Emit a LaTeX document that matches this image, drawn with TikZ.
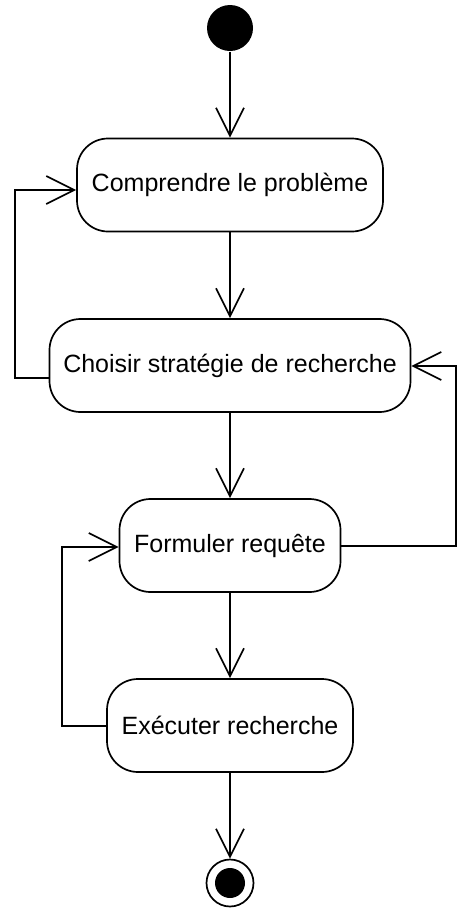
\documentclass[tikz,border=0pt]{standalone}
\usepackage{fontspec}
\setmainfont{Liberation Sans}
\usetikzlibrary{arrows.meta}
\begin{document}
\begin{tikzpicture}[x=1pt,y=-1pt,
  line width=1.7pt,
  activity/.style={draw, rounded corners=31pt, inner sep=0pt, minimum height=93pt,
    font=\fontsize{25}{30}\selectfont},
  flow/.style={-{Straight Barb[length=28pt,width=28pt,line width=1.7pt]}},
  initial/.style={circle, fill=black, inner sep=0pt, minimum size=46pt},
  final/.style={circle, draw, inner sep=0pt, minimum size=47pt},
  finaldot/.style={circle, fill=black, inner sep=0pt, minimum size=30pt}]
\useasboundingbox (0,0) rectangle (457,908);

% action states
\node[initial] (start) at (230,28) {};
\node[activity, minimum width=306pt] (b1) at (230,185) {Comprendre le problème};
\node[activity, minimum width=361pt] (b2) at (230,365.5) {Choisir stratégie de recherche};
\node[activity, minimum width=221pt] (b3) at (230,545.5) {Formuler requête};
\node[activity, minimum width=246pt] (b4) at (230,725.5) {Exécuter recherche};
\node[final] (fin) at (230,883) {};
\node[finaldot] (findot) at (fin.center) {};

% loop bend points
\coordinate (l1a) at (15,378);
\coordinate (l1b) at (15,190);
\coordinate (l2a) at (456,546);
\coordinate (l2b) at (456,366);
\coordinate (l3a) at (62,726);
\coordinate (l3b) at (62,547);

% main flow
\draw[flow] (start) -- (b1);
\draw[flow] (b1) -- (b2);
\draw[flow] (b2) -- (b3);
\draw[flow] (b3) -- (b4);
\draw[flow] (b4) -- (fin);

% back edges
\draw[flow] ([yshift=-12.5pt]b2.west) -- (l1a) -- (l1b) -- ([yshift=-5pt]b1.west);
\draw[flow] ([yshift=-0.5pt]b3.east) -- (l2a) -- (l2b) -- ([yshift=-0.5pt]b2.east);
\draw[flow] ([yshift=-0.5pt]b4.west) -- (l3a) -- (l3b) -- ([yshift=-1.5pt]b3.west);
\end{tikzpicture}
\end{document}
